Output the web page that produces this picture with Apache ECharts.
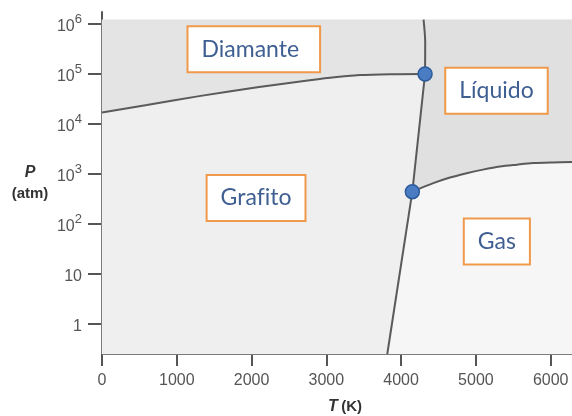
<!DOCTYPE html>
<html>
<head>
<meta charset="utf-8">
<script src="https://cdn.jsdelivr.net/npm/echarts@6/dist/echarts.min.js"></script>
<style>
html, body { margin: 0; padding: 0; background: #fff; }
#chart { width: 572px; height: 416px; }
</style>
</head>
<body>
<div id="chart"></div>
<script>
// axis ticks
var tempTicks = [0, 1000, 2000, 3000, 4000, 5000, 6000];
var pressTicks = [1, 10, 100, 1000, 10000, 100000, 1000000];

// axis limits (T in K, P in atm)
var tMax = 6285;
var pMin = 0.247;
var pMax = 1.74e6;
var pEdge = 1.22e6; // top of the shaded diagram

// phase boundaries [T, P]
var diamondGraphite = [[0, 17000], [600, 24000], [1300, 36000], [2100, 55000], [2650, 71000],
    [3050, 84000], [3450, 95000], [3850, 99000], [4320, 100000]];
var meltUpper = [[4320, 100000], [4322, 420000], [4300, 1220000]];
var meltLower = [[4150, 440], [4320, 100000]];
var sublimation = [[3815, 0.247], [4150, 440]];
var liquidGas = [[4150, 440], [4430, 650], [4653, 843], [4876, 1030], [5094, 1214],
    [5320, 1400], [5549, 1528], [5765, 1640], [6017, 1692], [6285, 1720]];
var triplePoints = [[4320, 100000], [4150, 440]];

// phase labels (ZWNJ keeps "fi" from turning into a ligature)
var phaseNames = ['Diamante', 'Líquido', 'Graf\u200Cito', 'Gas'];
var phaseLabelAt = [[2030, 313000], [5275, 46000], [2060, 330], [5280, 44]];

var phaseFill = ['#e4e4e4', '#e0e0e0', '#efefef', '#f6f6f6'];
var lineColor = '#5a5a5a';
var axisColor = '#555';

// region outlines built from the boundaries
var diamondPoly = [[0, pEdge]].concat(diamondGraphite, meltUpper.slice(1));
var liquidPoly = meltUpper.concat([[tMax, pEdge]], liquidGas.slice().reverse(), meltLower.slice(1));
var graphitePoly = diamondGraphite.concat(meltLower.slice().reverse().slice(1),
    sublimation.slice().reverse().slice(1), [[0, pMin]]);
var gasPoly = liquidGas.concat([[tMax, pMin]], sublimation);
var regionPolys = [diamondPoly, liquidPoly, graphitePoly, gasPoly];

function boundary(data) {
    return {
        type: 'line',
        data: data,
        smooth: 0.3,
        showSymbol: false,
        silent: true,
        lineStyle: { color: lineColor, width: 2 },
        z: 3
    };
}

var labelData = phaseLabelAt.map(function (p, i) {
    var item = { value: p };
    if (i === 0) item.label = { padding: [9, 20, 9, 13] };
    return item;
});

var chart = echarts.init(document.getElementById('chart'));

var option = {
    animation: false,
    grid: { left: 102, right: 0, top: 12, bottom: 62 },
    xAxis: {
        type: 'value',
        min: 0,
        max: tMax,
        splitLine: { show: false },
        axisLine: { show: true, lineStyle: { color: axisColor, width: 2 } },
        axisTick: { show: true, length: 12, customValues: tempTicks, lineStyle: { color: axisColor, width: 2 } },
        axisLabel: {
            customValues: tempTicks,
            margin: 19,
            color: axisColor,
            fontSize: 16,
            fontFamily: 'Liberation Sans',
            formatter: function (v) { return String(v); }
        }
    },
    yAxis: {
        type: 'log',
        min: pMin,
        max: pMax,
        splitLine: { show: false },
        axisLine: { show: true, lineStyle: { color: axisColor, width: 2 } },
        axisTick: { show: true, length: 14, customValues: pressTicks, lineStyle: { color: axisColor, width: 2 } },
        axisLabel: {
            customValues: pressTicks,
            margin: 20,
            formatter: function (v) {
                if (v < 100) return '{b|' + Math.round(v) + '}';
                return '{b|10}{s|' + Math.round(Math.log10(v)) + '}';
            },
            rich: {
                b: { fontSize: 16, color: axisColor, fontFamily: 'Liberation Sans', lineHeight: 22, verticalAlign: 'bottom' },
                s: { fontSize: 13, color: axisColor, fontFamily: 'Liberation Sans', lineHeight: 13, verticalAlign: 'top' }
            }
        }
    },
    series: [
        {
            type: 'custom',
            data: phaseLabelAt,
            silent: true,
            z: 1,
            renderItem: function (params, api) {
                var pts = regionPolys[params.dataIndex].map(function (p) { return api.coord(p); });
                return {
                    type: 'polygon',
                    shape: { points: pts },
                    style: { fill: phaseFill[params.dataIndex], stroke: phaseFill[params.dataIndex], lineWidth: 0.5 }
                };
            }
        },
        boundary(diamondGraphite),
        boundary(meltUpper),
        boundary(meltLower),
        boundary(sublimation),
        boundary(liquidGas),
        {
            type: 'scatter',
            data: triplePoints,
            symbolSize: 14,
            silent: true,
            z: 4,
            itemStyle: { color: '#4a7cc4', borderColor: '#2d5b9a', borderWidth: 1.5, opacity: 1 }
        },
        {
            type: 'scatter',
            data: labelData,
            symbolSize: 0,
            silent: true,
            z: 5,
            itemStyle: { opacity: 1 },
            label: {
                show: true,
                position: 'inside',
                formatter: function (p) { return phaseNames[p.dataIndex]; },
                color: '#3f5f92',
                fontFamily: 'Lato',
                fontSize: 23,
                lineHeight: 26,
                backgroundColor: '#ffffff',
                borderColor: '#f0994a',
                borderWidth: 2,
                padding: [9, 13, 9, 13]
            }
        }
    ],
    graphic: [
        {
            type: 'text',
            x: 30,
            y: 183,
            style: {
                text: '{p|P}\n{u|(atm)}',
                align: 'center',
                verticalAlign: 'middle',
                rich: {
                    p: { fontSize: 16, fontWeight: 'bold', fontStyle: 'italic', fontFamily: 'Liberation Sans', fill: '#333', lineHeight: 21, align: 'center' },
                    u: { fontSize: 15, fontWeight: 'bold', fontFamily: 'Liberation Sans', fill: '#333', lineHeight: 21, align: 'center' }
                }
            }
        },
        {
            type: 'text',
            x: 345,
            y: 407,
            style: {
                text: '{t|T} {k|(K)}',
                align: 'center',
                verticalAlign: 'middle',
                rich: {
                    t: { fontSize: 16, fontWeight: 'bold', fontStyle: 'italic', fontFamily: 'Liberation Sans', fill: '#333' },
                    k: { fontSize: 15, fontWeight: 'bold', fontFamily: 'Liberation Sans', fill: '#333' }
                }
            }
        }
    ]
};

chart.setOption(option);
</script>
</body>
</html>
